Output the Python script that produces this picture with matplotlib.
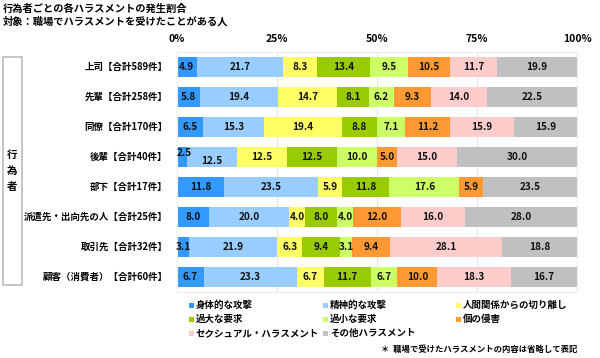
import matplotlib
matplotlib.use('Agg')
import matplotlib.pyplot as plt
from matplotlib.patches import Rectangle
import numpy as np

plt.rcParams['font.family'] = ['Noto Sans CJK JP', 'DejaVu Sans']

# data
categories = ['上司【合計589件】', '先輩【合計258件】', '同僚【合計170件】', '後輩【合計40件】',
              '部下【合計17件】', '派遣先・出向先の人【合計25件】', '取引先【合計32件】', '顧客（消費者）【合計60件】']
series_names = ['身体的な攻撃', '精神的な攻撃', '人間関係からの切り離し', '過大な要求',
                '過小な要求', '個の侵害', 'セクシュアル・ハラスメント', 'その他ハラスメント']
values = np.array([
    [4.9, 21.7, 8.3, 13.4, 9.5, 10.5, 11.7, 19.9],
    [5.8, 19.4, 14.7, 8.1, 6.2, 9.3, 14.0, 22.5],
    [6.5, 15.3, 19.4, 8.8, 7.1, 11.2, 15.9, 15.9],
    [2.5, 12.5, 12.5, 12.5, 10.0, 5.0, 15.0, 30.0],
    [11.8, 23.5, 5.9, 11.8, 17.6, 5.9, 0.0, 23.5],
    [8.0, 20.0, 4.0, 8.0, 4.0, 12.0, 16.0, 28.0],
    [3.1, 21.9, 6.3, 9.4, 3.1, 9.4, 28.1, 18.8],
    [6.7, 23.3, 6.7, 11.7, 6.7, 10.0, 18.3, 16.7],
])
xticks = [0, 25, 50, 75, 100]
xtick_labels = ['0%', '25%', '50%', '75%', '100%']
colors = ['#3399FF', '#99CCFF', '#FFFF66', '#99CC00', '#CCFF66', '#FF9933', '#FFCCCC', '#C0C0C0']

W, H = 600, 358
fig = plt.figure(figsize=(W / 100, H / 100), dpi=100)

def fx(px):
    return px / W

def fy(py):
    return 1 - py / H

ax = fig.add_axes([fx(177), fy(292), fx(577) - fx(177), fy(52) - fy(292)])

y = np.arange(len(categories))
left = np.zeros(len(categories))
for j in range(len(series_names)):
    ax.barh(y, values[:, j], left=left, height=0.67, color=colors[j], edgecolor='none', zorder=2)
    for i in range(len(categories)):
        v = values[i, j]
        if v <= 0:
            continue
        cx = left[i] + v / 2
        dy = 0
        # small first segment in 後輩 row: labels are staggered
        if i == 3 and j == 0:
            cx, dy = left[i] + 1.7, -0.13
        elif i == 3 and j == 1:
            dy = 0.13
        ax.text(cx, y[i] + dy, f'{v:.1f}', ha='center', va='center', fontsize=7.2,
                fontweight='bold', color='#111111', zorder=3)
    left += values[:, j]

ax.set_xlim(0, 100)
ax.set_ylim(len(categories) - 0.5, -0.5)
ax.set_yticks([])
ax.set_xticks(xticks)
ax.set_xticklabels(xtick_labels, fontsize=7.5, fontweight='bold')
ax.xaxis.tick_top()
ax.tick_params(axis='x', length=0, pad=6)
ax.grid(axis='x', color='#E6E6E6', linewidth=0.8, zorder=0)
for s in ax.spines.values():
    s.set_color('#EEEEEE')
    s.set_linewidth(0.8)

# category labels
for i, c in enumerate(categories):
    ax.text(-2.3, y[i], c, ha='right', va='center', fontsize=6.8, fontweight='bold',
            transform=ax.transData, clip_on=False)

# left bracket box
fig.patches.append(Rectangle((fx(3), fy(285)), fx(22) - fx(3), fy(57) - fy(285),
                             transform=fig.transFigure, fill=False, edgecolor='#BBBBBB', linewidth=1.2))
fig.text(fx(12.5), fy(171), '行\n為\n者', ha='center', va='center', fontsize=7.5,
         fontweight='bold', linespacing=1.7)

# titles
fig.text(fx(3), fy(9), '行為者ごとの各ハラスメントの発生割合', ha='left', va='center', fontsize=7.4, fontweight='bold')
fig.text(fx(3), fy(22), '対象：職場でハラスメントを受けたことがある人', ha='left', va='center', fontsize=7.4, fontweight='bold')

# legend
col_x = [189, 323, 456]
row_y = [305, 319, 333]
for k, name in enumerate(series_names):
    c, r = k % 3, k // 3
    sq = 5
    fig.patches.append(Rectangle((fx(col_x[c]), fy(row_y[r] + sq / 2)), sq / W, sq / H,
                                 transform=fig.transFigure, facecolor=colors[k], edgecolor='none'))
    fig.text(fx(col_x[c] + 7), fy(row_y[r]), name, ha='left', va='center', fontsize=6.8, fontweight='bold')

fig.text(fx(381), fy(349), '＊  職場で受けたハラスメントの内容は省略して表記', ha='left', va='center',
         fontsize=6, fontweight='bold')

fig.savefig('out.png', dpi=100)
